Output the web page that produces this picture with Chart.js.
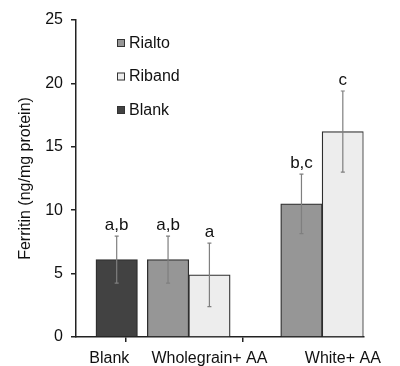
<!DOCTYPE html>
<html>
<head>
<meta charset="utf-8">
<script src="https://cdn.jsdelivr.net/npm/chart.js@4/dist/chart.umd.min.js"></script>
<style>
  html, body { margin: 0; padding: 0; background: #ffffff; }
  #wrap { width: 400px; height: 366px; }
</style>
</head>
<body>
<div id="wrap"><canvas id="c" width="400" height="366"></canvas></div>
<script>
// ---- Data ----
const categories = ['Blank', 'Wholegrain+ AA', 'White+ AA'];
const seriesNames = ['Rialto', 'Riband', 'Blank'];
const rialtoValues = [null, 6.1, 10.5];
const ribandValues = [null, 4.9, 16.2];
const blankValues = [6.1, null, null];
const rialtoErrors = [null, 1.85, 2.35];
const ribandErrors = [null, 2.5, 3.2];
const blankErrors = [1.85, null, null];
const rialtoLetters = [null, 'a,b', 'b,c'];
const ribandLetters = [null, 'a', 'c'];
const blankLetters = ['a,b', null, null];
const yTicks = [0, 5, 10, 15, 20, 25];

// ---- Layout (x axis in half-group units) ----
const catCenters = [0.5, 2, 4];
const catBounds = [0, 1, 3];
const seriesOffsets = [-0.62, 0, 0.11];
const xMax = 4.31;

const FONT = "'Liberation Sans', Arial, sans-serif";
const TXT = '#111111';
const AX = '#222222';

function buildPoints(values, sIdx) {
  const pts = [];
  values.forEach((v, i) => {
    if (v !== null) pts.push({ x: catCenters[i] + seriesOffsets[sIdx], y: v, ci: i });
  });
  return pts;
}

const errs = [rialtoErrors, ribandErrors, blankErrors];
const letters = [rialtoLetters, ribandLetters, blankLetters];

const errorBarPlugin = {
  id: 'errorBars',
  afterDatasetsDraw(chart) {
    const ctx = chart.ctx;
    const ys = chart.scales.y;
    chart.data.datasets.forEach((ds, di) => {
      const meta = chart.getDatasetMeta(di);
      meta.data.forEach((el, j) => {
        const pt = ds.data[j];
        const e = errs[di][pt.ci];
        const x = el.x;
        const yHi = ys.getPixelForValue(pt.y + e);
        const yLo = ys.getPixelForValue(pt.y - e);
        ctx.save();
        ctx.strokeStyle = '#7f7f7f';
        ctx.lineWidth = 1.2;
        ctx.beginPath();
        ctx.moveTo(x, yHi); ctx.lineTo(x, yLo);
        ctx.moveTo(x - 2, yHi); ctx.lineTo(x + 2, yHi);
        ctx.moveTo(x - 2, yLo); ctx.lineTo(x + 2, yLo);
        ctx.stroke();
        const lab = letters[di][pt.ci];
        if (lab) {
          ctx.fillStyle = TXT;
          ctx.font = '17px ' + FONT;
          ctx.textAlign = 'center';
          ctx.textBaseline = 'alphabetic';
          ctx.fillText(lab, x, yHi - 6);
        }
        ctx.restore();
      });
    });
  }
};

const legendPlugin = {
  id: 'customLegend',
  afterDraw(chart) {
    const ctx = chart.ctx;
    const a = chart.chartArea;
    const bx = a.left + 41, by = a.top + 19, gap = 33.5;
    chart.data.datasets.forEach((ds, i) => {
      const y = by + i * gap;
      ctx.save();
      ctx.fillStyle = ds.backgroundColor;
      ctx.fillRect(bx, y, 8, 8);
      ctx.strokeStyle = '#333333';
      ctx.lineWidth = 1;
      ctx.strokeRect(bx + 0.5, y + 0.5, 7, 7);
      ctx.fillStyle = TXT;
      ctx.font = '16px ' + FONT;
      ctx.textAlign = 'left';
      ctx.textBaseline = 'middle';
      ctx.fillText(ds.label, bx + 12, y + 4.5);
      ctx.restore();
    });
  }
};

const colors = ['#969696', '#ededed', '#424242'];
const valueSets = [rialtoValues, ribandValues, blankValues];

new Chart(document.getElementById('c'), {
  type: 'bar',
  data: {
    datasets: seriesNames.map((name, i) => ({
      label: name,
      data: buildPoints(valueSets[i], i),
      backgroundColor: colors[i],
      borderColor: '#2e2e2e',
      borderWidth: 1.3,
      barThickness: 41.5,
      grouped: false
    }))
  },
  options: {
    responsive: false,
    animation: false,
    devicePixelRatio: 1,
    layout: { padding: { top: 20, right: 36.5, left: 13, bottom: 0 } },
    plugins: { legend: { display: false }, tooltip: { enabled: false } },
    scales: {
      x: {
        type: 'linear',
        offset: false,
        min: 0,
        max: xMax,
        afterBuildTicks(scale) {
          const vals = [...catBounds, ...catCenters].sort((p, q) => p - q);
          scale.ticks = vals.map(v => ({ value: v }));
        },
        afterFit(scale) { scale.height = 29; },
        ticks: {
          autoSkip: false,
          maxRotation: 0,
          padding: 7,
          color: TXT,
          font: { family: FONT, size: 16 },
          callback(v) {
            const k = catCenters.indexOf(v);
            return k >= 0 ? categories[k] : '';
          }
        },
        grid: {
          drawOnChartArea: false,
          tickLength: 5,
          lineWidth: 1.5,
          tickColor(ctx) {
            return ctx.tick && catBounds.includes(ctx.tick.value) ? AX : 'rgba(0,0,0,0)';
          }
        },
        border: { color: AX, width: 1.5 }
      },
      y: {
        min: 0,
        max: 25,
        afterBuildTicks(scale) { scale.ticks = yTicks.map(v => ({ value: v })); },
        afterFit(scale) { scale.width = 63; },
        ticks: { padding: 8, color: TXT, font: { family: FONT, size: 16 } },
        grid: { drawOnChartArea: false, tickLength: 5, tickColor: AX, lineWidth: 1.5 },
        border: { color: AX, width: 1.5 },
        title: {
          display: true,
          text: 'Ferritin (ng/mg protein)',
          color: TXT,
          font: { family: FONT, size: 16 },
          padding: { top: 3, bottom: 10 }
        }
      }
    }
  },
  plugins: [errorBarPlugin, legendPlugin]
});
</script>
</body>
</html>
